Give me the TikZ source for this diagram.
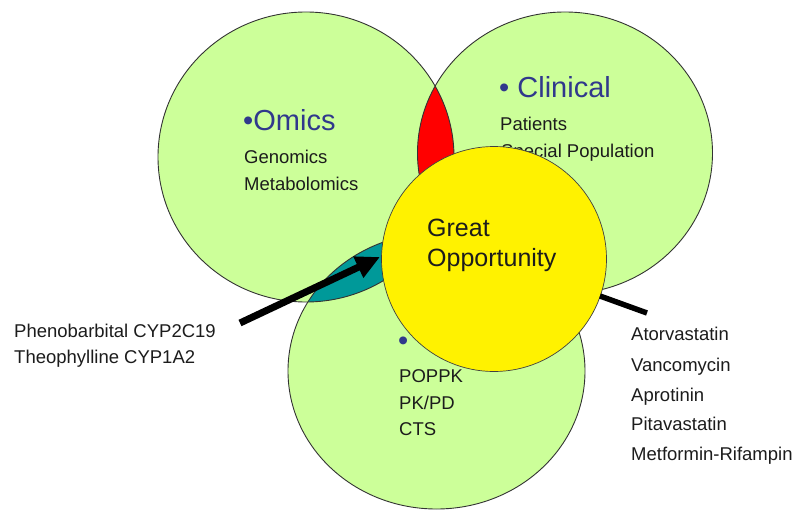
\documentclass[tikz,border=0pt]{standalone}
\usepackage{fontspec}
\setmainfont{Liberation Sans}
\usetikzlibrary{shapes.geometric,arrows.meta}
\definecolor{vgreen}{RGB}{204,255,153}
\definecolor{vteal}{RGB}{0,153,153}
\definecolor{vblue}{RGB}{48,56,140}
\definecolor{vtext}{RGB}{28,28,28}
\begin{document}
\begin{tikzpicture}[x=1pt,y=-1pt,
  setshape/.style={ellipse, inner sep=0pt, fill=vgreen},
  rim/.style={draw=black!80, line width=0.9pt},
  head/.style={text=vblue, font=\fontsize{29}{34}\selectfont, anchor=base west, inner sep=0pt},
  item/.style={text=vtext, font=\fontsize{18.5}{22}\selectfont, anchor=base west, inner sep=0pt},
  bigitem/.style={text=vtext, font=\fontsize{25}{30}\selectfont, anchor=base west, inner sep=0pt},
  pointer/.style={line width=7pt, -{Triangle[length=24pt,width=22pt]}},
  bar/.style={line width=5.5pt}
]
\fill[white] (0,0) rectangle (801,511);
\useasboundingbox (0,0) rectangle (801,511);

% the three sets
\node[setshape, minimum width=296pt, minimum height=290pt] (omics) at (306,157) {};
\node[setshape, minimum width=295pt, minimum height=282pt] (clin) at (565,153) {};
\node[setshape, minimum width=297pt, minimum height=276pt] (pmx) at (436.5,371) {};

% overlaps
\begin{scope}
  \clip (omics.center) ellipse[x radius=148pt, y radius=145pt];
  \fill[red] (clin.center) ellipse[x radius=147.5pt, y radius=141pt];
  \fill[vteal] (pmx.center) ellipse[x radius=148.5pt, y radius=138pt];
\end{scope}

% outlines
\draw[rim] (omics.center) ellipse[x radius=148pt, y radius=145pt];
\draw[rim] (clin.center) ellipse[x radius=147.5pt, y radius=141pt];
\draw[rim] (pmx.center) ellipse[x radius=148.5pt, y radius=138pt];

% texts in the sets
\node[head] (omicsT) at (243,130) {•Omics};
\node[item] (omics1) at (244,163) {Genomics};
\node[item] (omics2) at (244,190) {Metabolomics};

\node[head] (clinT) at (499,97) {• Clinical};
\node[item] (clin1) at (500,130) {Patients};
\node[item] (clin2) at (501,157) {Special Population};

\node[head] (pmxT) at (398,350) {•};
\node[item] (pmx1) at (399,382) {POPPK};
\node[item] (pmx2) at (399,409) {PK/PD};
\node[item] (pmx3) at (399,435) {CTS};

% centre circle
\node[circle, fill=yellow, draw=black!75, line width=0.7pt, minimum size=225pt, inner sep=0pt] (great) at (494,259) {};
\node[bigitem] (great1) at (427,236) {Great};
\node[bigitem] (great2) at (427,266) {Opportunity};

% side labels
\node[item] (left1) at (14,337) {Phenobarbital CYP2C19};
\node[item] (left2) at (14,363) {Theophylline CYP1A2};

\node[item] (right1) at (631,340) {Atorvastatin};
\node[item] (right2) at (631,371) {Vancomycin};
\node[item] (right3) at (631,401) {Aprotinin};
\node[item] (right4) at (631,430) {Pitavastatin};
\node[item] (right5) at (631,460) {Metformin-Rifampin};

% connectors
\coordinate (ltail) at (240,323);
\coordinate (ltip) at (380,257);
\draw[pointer] (ltail) -- (ltip);
\coordinate (rstart) at (600,296);
\coordinate (rend) at (647,313);
\draw[bar] (rstart) -- (rend);
\end{tikzpicture}
\end{document}
